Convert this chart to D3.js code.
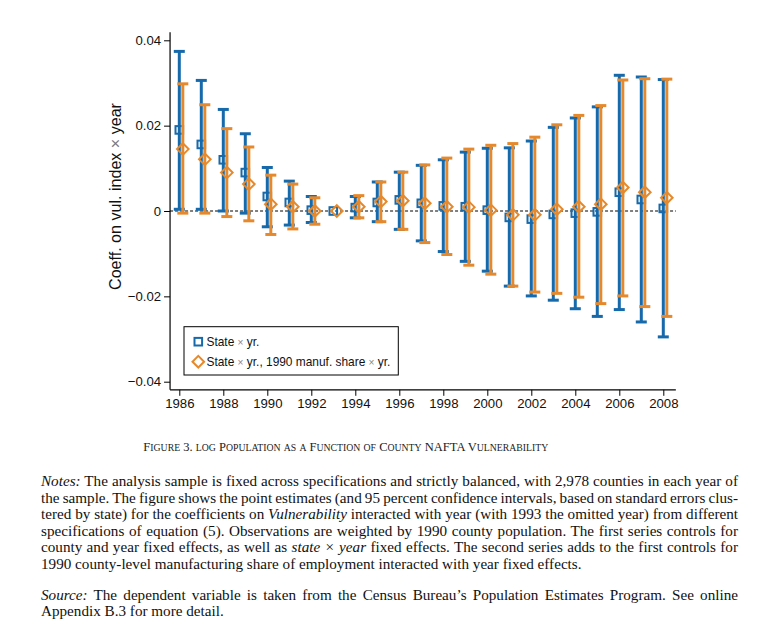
<!DOCTYPE html>
<html><head><meta charset="utf-8">
<script src="https://cdn.jsdelivr.net/npm/d3@7"></script>
<style>
html,body{margin:0;padding:0;background:#fff;}
svg{display:block;}
</style></head>
<body>
<svg id="chart" width="760" height="636"></svg>
<script>
const years = [1986,1987,1988,1989,1990,1991,1992,1993,1994,1995,1996,1997,1998,1999,2000,2001,2002,2003,2004,2005,2006,2007,2008];
const blueEst = [0.0190,0.0156,0.0120,0.0090,0.0034,0.0020,0.0002,0,0.0008,0.0020,0.0026,0.0018,0.0012,0.0010,0.0002,-0.0015,-0.0019,-0.0008,-0.0005,-0.0002,0.0044,0.0027,0.0006];
const blueHi = [0.0374,0.0306,0.0238,0.0181,0.0102,0.0070,0.0034,null,0.0034,0.0068,0.0091,0.0107,0.0120,0.0138,0.0147,0.0148,0.0164,0.0196,0.0218,0.0244,0.0318,0.0314,0.0308];
const blueLo = [0.0004,0.0004,0.0000,-0.0005,-0.0037,-0.0033,-0.0027,null,-0.0016,-0.0025,-0.0043,-0.0070,-0.0095,-0.0118,-0.0141,-0.0176,-0.0199,-0.0209,-0.0229,-0.0247,-0.0231,-0.0260,-0.0295];
const orangeEst = [0.0145,0.0121,0.0090,0.0063,0.0016,0.0010,0.0000,0,0.0010,0.0022,0.0024,0.0018,0.0010,0.0009,0.0002,-0.0009,-0.0009,0.0004,0.0010,0.0016,0.0055,0.0044,0.0031];
const orangeHi = [0.0298,0.0249,0.0193,0.0150,0.0084,0.0063,0.0031,null,0.0036,0.0068,0.0091,0.0108,0.0124,0.0145,0.0154,0.0158,0.0173,0.0202,0.0224,0.0247,0.0307,0.0310,0.0309];
const orangeLo = [-0.0005,-0.0005,-0.0013,-0.0023,-0.0055,-0.0042,-0.0031,null,-0.0016,-0.0025,-0.0043,-0.0074,-0.0102,-0.0127,-0.0148,-0.0176,-0.0190,-0.0193,-0.0202,-0.0217,-0.0199,-0.0224,-0.0247];
const yTicks = [-0.04,-0.02,0,0.02,0.04];
const yTickLabels = ["\u22120.04","\u22120.02","0","0.02","0.04"];
const xTicks = [1986,1988,1990,1992,1994,1996,1998,2000,2002,2004,2006,2008];
const seriesNames = ["State \u00d7 yr.","State \u00d7 yr., 1990 manuf. share \u00d7 yr."];

const BLUE = "#1669aa", ORANGE = "#e6892c";
const SANS = "'Liberation Sans', Arial, Helvetica, sans-serif";
const SERIF = "'Liberation Serif', 'Times New Roman', serif";

const svg = d3.select("#chart");
const x = d3.scaleLinear().domain([1986, 2008]).range([179.3, 663.3]);
const y = d3.scaleLinear().domain([-0.04, 0.04]).range([381.7, 40.3]);

// axes
const gy = svg.append("g").attr("transform", `translate(${x(1985.58)},0)`)
  .call(d3.axisLeft(y).tickValues(yTicks).tickFormat((d,i)=>yTickLabels[i]).tickSize(6).tickPadding(3));
gy.select(".domain").remove();
svg.append("line").attr("x1", x(1985.58)).attr("x2", x(1985.58))
  .attr("y1", y(0.0419)).attr("y2", y(-0.0419)).attr("stroke", "#000").attr("stroke-width", 1.2);
const gx = svg.append("g").attr("transform", `translate(0,${y(-0.0419)})`)
  .call(d3.axisBottom(x).tickValues(xTicks).tickFormat(d3.format("d")).tickSize(6).tickPadding(3));
gx.select(".domain").remove();
svg.append("line").attr("x1", x(1985.58)).attr("x2", x(2008.57))
  .attr("y1", y(-0.0419)).attr("y2", y(-0.0419)).attr("stroke", "#000").attr("stroke-width", 1.2);
svg.selectAll(".tick line").attr("stroke", "#000").attr("stroke-width", 1);
gx.attr("font-size", 13.2).attr("font-family", SANS);
gy.attr("font-size", 13.2).attr("font-family", SANS);
svg.selectAll(".tick text").attr("fill", "#111");

// zero line
svg.append("line").attr("x1", x(1985.58)).attr("x2", x(2008.57)).attr("y1", y(0)).attr("y2", y(0))
  .attr("stroke", "#000").attr("stroke-width", 1).attr("stroke-dasharray", "3,2");

// y label
const yl = svg.append("text").attr("transform", `translate(121,196.5) rotate(-90)`)
  .attr("text-anchor", "middle").attr("font-family", SANS).attr("font-size", 15.5).attr("fill", "#111");
yl.append("tspan").text("Coeff. on vul. index ");
yl.append("tspan").attr("fill", "#777").text("\u00d7");
yl.append("tspan").text(" year");
{
  const w = yl.node().getComputedTextLength();
  yl.attr("font-size", 15.5 * 187 / w);
}

function bars(est, lo, hi, off, color) {
  const g = svg.append("g");
  years.forEach((yr, i) => {
    if (lo[i] === null) return;
    const cx = x(yr + off);
    g.append("line").attr("x1", cx).attr("x2", cx).attr("y1", y(lo[i])).attr("y2", y(hi[i]))
      .attr("stroke", color).attr("stroke-width", 3);
    [lo[i], hi[i]].forEach(v => {
      g.append("line").attr("x1", cx - 5.5).attr("x2", cx + 5.5).attr("y1", y(v)).attr("y2", y(v))
        .attr("stroke", color).attr("stroke-width", 3);
    });
  });
  return g;
}
function squares(est, off) {
  svg.append("g").selectAll("rect").data(years).join("rect")
    .attr("x", (d) => x(d + off) - 3.8).attr("y", (d,i) => y(est[i]) - 3.8)
    .attr("width", 7.6).attr("height", 7.6).attr("fill", "none")
    .attr("stroke", BLUE).attr("stroke-width", 2);
}
function diamonds(est, off) {
  svg.append("g").selectAll("path").data(years).join("path")
    .attr("d", (d,i) => { const cx = x(d + off), cy = y(est[i]), r = 5.8;
      return `M${cx},${cy-r}L${cx+r},${cy}L${cx},${cy+r}L${cx-r},${cy}Z`; })
    .attr("fill", "none").attr("stroke", ORANGE).attr("stroke-width", 2);
}
bars(blueEst, blueLo, blueHi, 0, BLUE);
squares(blueEst, 0);
bars(orangeEst, orangeLo, orangeHi, 0.16, ORANGE);
diamonds(orangeEst, 0.16);

// legend
const lg = svg.append("g");
lg.append("rect").attr("x", 184).attr("y", 326.7).attr("width", 214.3).attr("height", 48.3)
  .attr("fill", "#fff").attr("stroke", "#000").attr("stroke-width", 1);
lg.append("rect").attr("x", 198.3 - 3.8).attr("y", 341.7 - 3.8).attr("width", 7.6).attr("height", 7.6)
  .attr("fill", "none").attr("stroke", BLUE).attr("stroke-width", 2);
lg.append("path").attr("d", `M198.3,${361.7-5.8}L${198.3+5.8},361.7L198.3,${361.7+5.8}L${198.3-5.8},361.7Z`)
  .attr("fill", "none").attr("stroke", ORANGE).attr("stroke-width", 2);
const legTexts = [];
[341.7, 361.7].forEach((ty, k) => {
  const t = lg.append("text").attr("x", 206.5).attr("y", ty + 4.5).attr("font-family", SANS)
    .attr("font-size", 12.5).attr("fill", "#111");
  seriesNames[k].split("\u00d7").forEach((part, j) => {
    if (j > 0) t.append("tspan").attr("fill", "#888").attr("font-size", "0.85em").text("\u00d7");
    t.append("tspan").text(part);
  });
  legTexts.push(t);
});
{
  const w = legTexts[1].node().getComputedTextLength();
  const f = 12.5 * 184 / w;
  legTexts.forEach(t => t.attr("font-size", f));
}

// caption with manual small caps (lowercase rendered as smaller capitals)
const captionText = "Figure 3. log Population as a Function of County NAFTA Vulnerability";
const cap = svg.append("text").attr("x", 345.8).attr("y", 451).attr("text-anchor", "middle")
  .attr("font-family", SERIF).attr("font-size", 14).attr("fill", "#222").attr("xml:space", "preserve");
{
  const runs = [];
  for (const ch of captionText) {
    const small = ch !== ch.toUpperCase();
    if (runs.length && runs[runs.length-1].small === small) runs[runs.length-1].s += ch;
    else runs.push({small, s: ch});
  }
  runs.forEach(r => {
    const ts = cap.append("tspan").text(r.small ? r.s.toUpperCase() : r.s);
    if (r.small) ts.attr("font-size", "0.78em");
  });
  const w = cap.node().getComputedTextLength();
  cap.attr("font-size", 14 * 405 / w);
}

// notes
const notes = [
  [[["Notes:", true], [" The analysis sample is fixed across specifications and strictly balanced, with 2,978 counties in each year of", false]], true, 486],
  [[["the sample. The figure shows the point estimates (and 95 percent confidence intervals, based on standard errors clus-", false]], true, 502.6],
  [[["tered by state) for the coefficients on ", false], ["Vulnerability", true], [" interacted with year (with 1993 the omitted year) from different", false]], true, 519.2],
  [[["specifications of equation (5). Observations are weighted by 1990 county population. The first series controls for", false]], true, 535.8],
  [[["county and year fixed effects, as well as ", false], ["state \u00d7 year", true], [" fixed effects. The second series adds to the first controls for", false]], true, 552.4],
  [[["1990 county-level manufacturing share of employment interacted with year fixed effects.", false]], false, 569],
  [[["Source:", true], [" The dependent variable is taken from the Census Bureau\u2019s Population Estimates Program. See online", false]], true, 599.5],
  [[["Appendix B.3 for more detail.", false]], false, 616]
];
const probe = svg.append("text").attr("font-family", SERIF).attr("font-size", 100)
  .text("1990 county-level manufacturing share of employment interacted with year fixed effects.");
const fs = 540.7 / (probe.node().getComputedTextLength() / 100);
probe.remove();
const left = 41, right = 738;
notes.forEach(([parts, justify, by]) => {
  const t = svg.append("text").attr("x", left).attr("y", by).attr("font-family", SERIF)
    .attr("font-size", fs).attr("fill", "#111").attr("xml:space", "preserve");
  parts.forEach(([s, it]) => {
    const ts = t.append("tspan").text(s);
    if (it) ts.attr("font-style", "italic");
  });
  if (justify) {
    const w = t.node().getComputedTextLength();
    const full = parts.map(p => p[0]).join("");
    const n = (full.match(/ /g) || []).length;
    t.style("word-spacing", ((right - left - w) / n) + "px");
  }
});
</script>
</body></html>
